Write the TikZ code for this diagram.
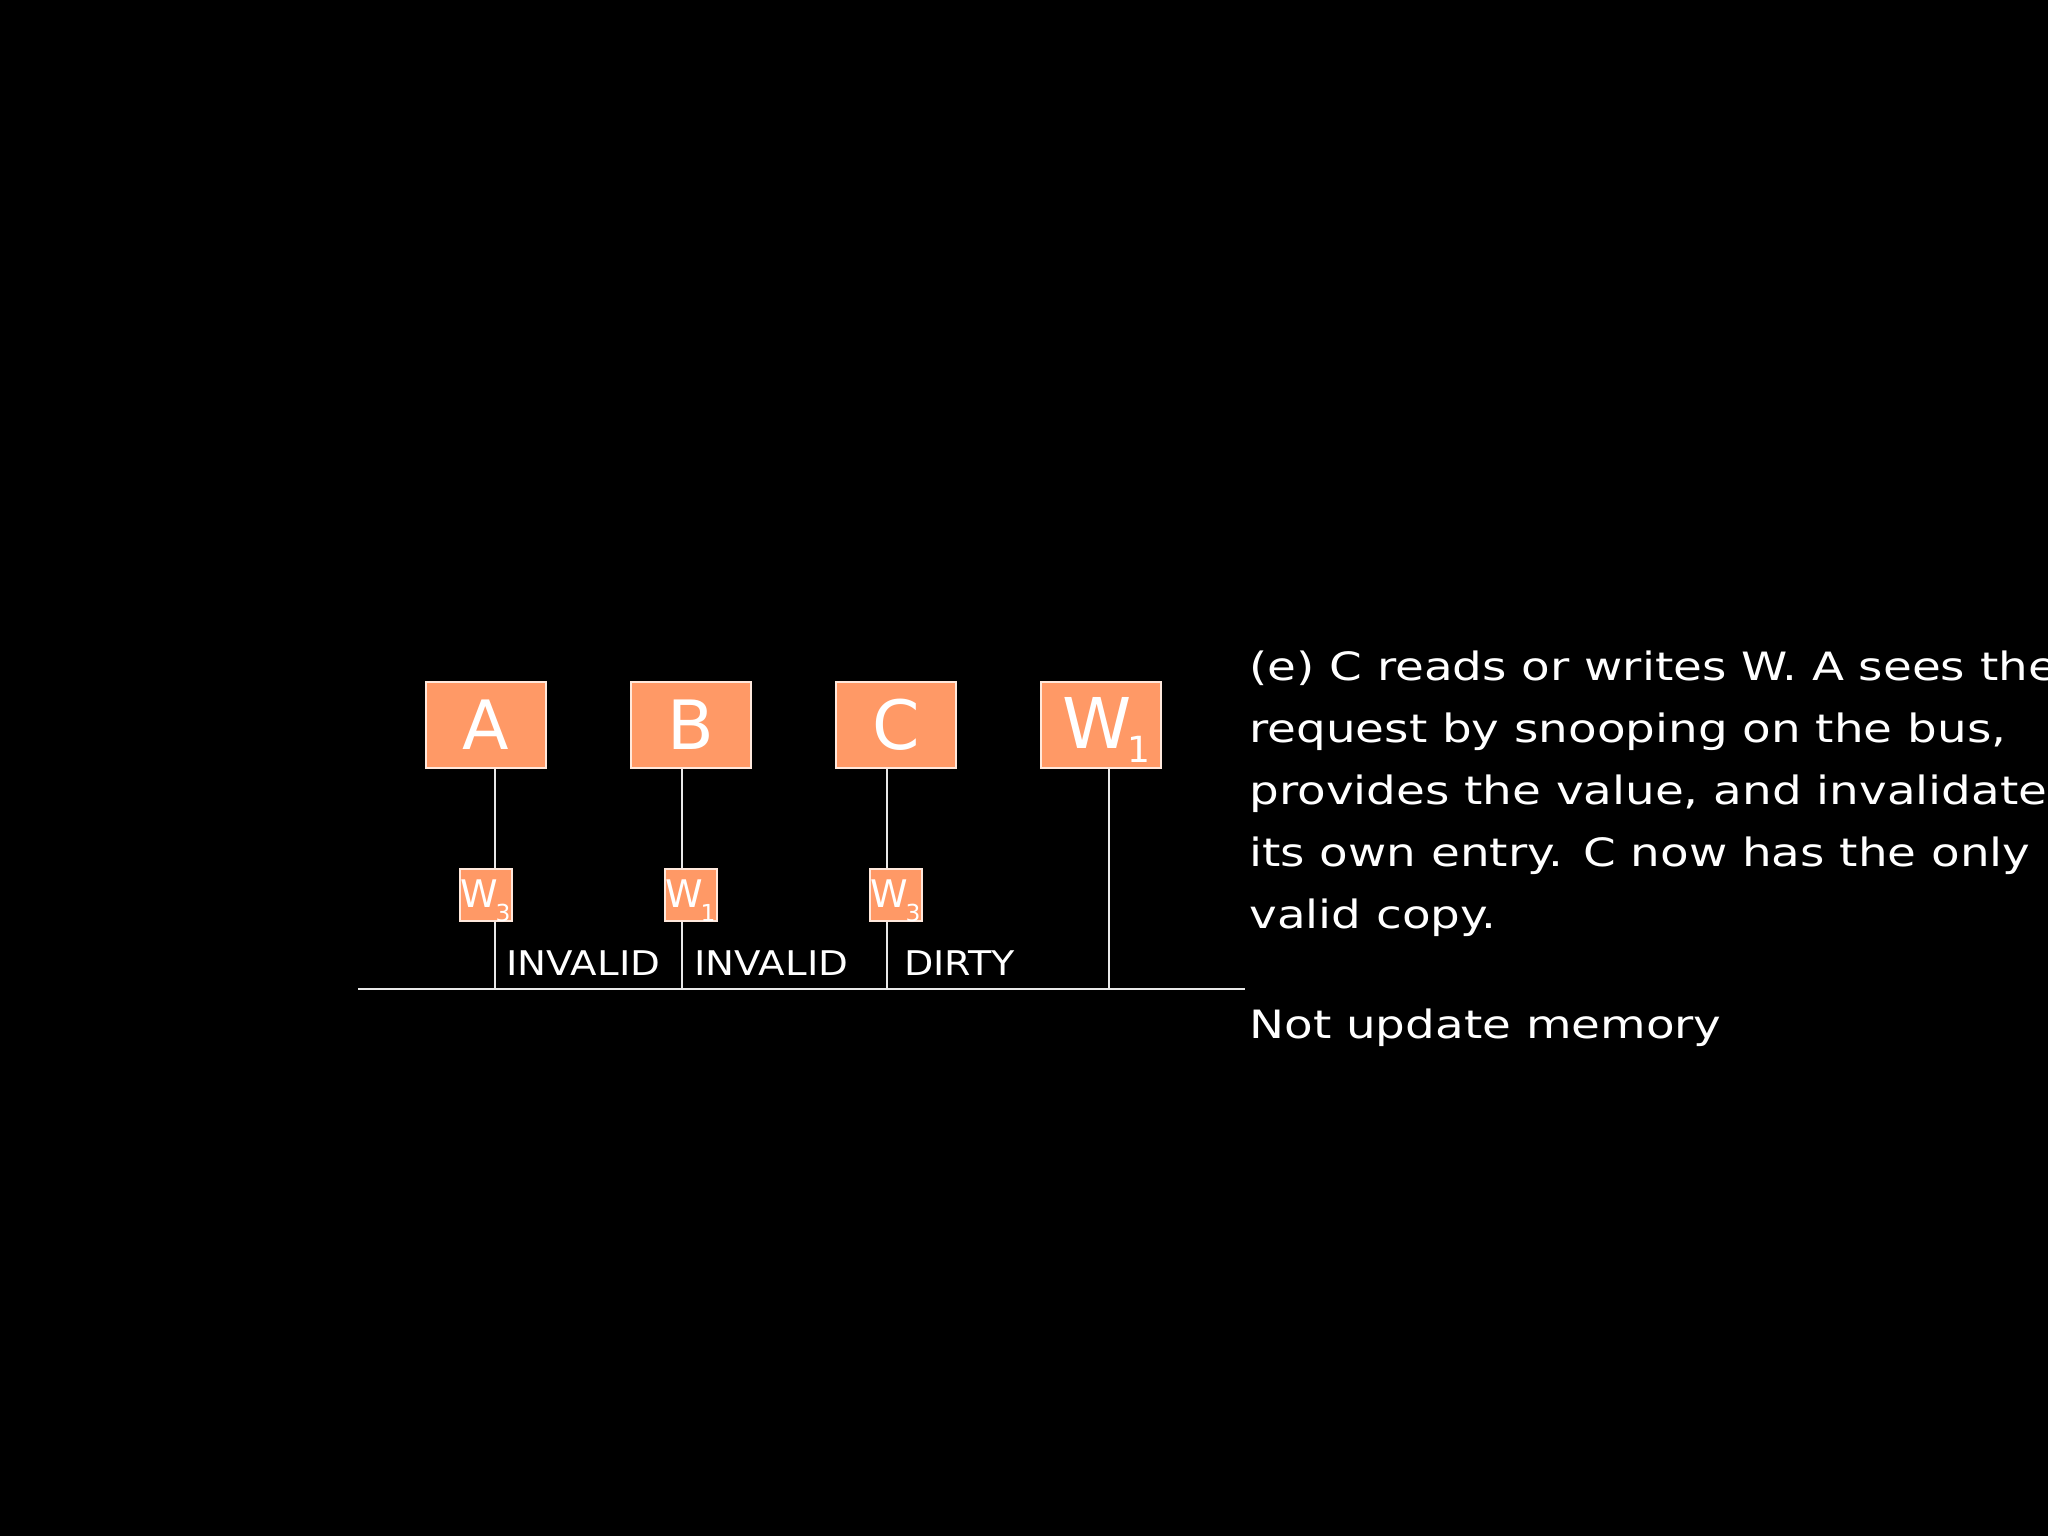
\documentclass[tikz,border=0pt]{standalone}
\usepackage{graphicx}
\usepackage{fontspec}
\setmainfont{DejaVu Sans}
\definecolor{boxfill}{HTML}{FF9966}
\definecolor{boxedge}{HTML}{FFE8DC}
\definecolor{wire}{HTML}{E8E8E8}
\newcommand{\widetext}[2]{\scalebox{#1}[1]{#2}}
\begin{document}
\begin{tikzpicture}[x=0.5pt,y=-0.5pt,
  bigbox/.style={draw=boxedge,line width=1.2pt,fill=boxfill,minimum width=60pt,minimum height=43pt,inner sep=0pt,text=white,font=\fontsize{34}{34}\selectfont},
  smallbox/.style={draw=boxedge,line width=1pt,fill=boxfill,minimum width=26pt,minimum height=26pt,inner sep=0pt,text=white},
  wireline/.style={draw=wire,line width=1pt},
  statelabel/.style={anchor=base west,inner sep=0pt,text=white,font=\fontsize{17}{17}\selectfont},
  para/.style={anchor=base west,inner sep=0pt,text=white,font=\fontsize{19.5}{19.5}\selectfont}]
\fill[black] (0,0) rectangle (2048,1536);
\useasboundingbox (0,0) rectangle (2048,1536);
\clip (0,0) rectangle (2048,1536);
% bus
\coordinate (busL) at (358,989);
\coordinate (busR) at (1245,989);
\draw[wireline] (busL) -- (busR);
% processors
\node[bigbox] (A) at (486,725) {A};
\node[bigbox] (B) at (691,725) {B};
\node[bigbox] (C) at (896,725) {C};
\node[bigbox] (M) at (1101,725) {};
\node[text=white,inner sep=0pt,anchor=base west,font=\fontsize{35}{35}\selectfont] (Mw) at (1062,748) {W};
\node[text=white,inner sep=0pt,anchor=base west,font=\fontsize{18}{18}\selectfont] (Ms) at (1127,762) {1};
% taps on the bus
\coordinate (tA) at (495,989);
\coordinate (tB) at (682,989);
\coordinate (tC) at (887,989);
\coordinate (tM) at (1109,989);
\draw[wireline] (A.south -| tA) -- (tA);
\draw[wireline] (B.south -| tB) -- (tB);
\draw[wireline] (C.south -| tC) -- (tC);
\draw[wireline] (M.south -| tM) -- (tM);
% caches
\node[smallbox] (cA) at (486,895) {};
\node[smallbox] (cB) at (691,895) {};
\node[smallbox] (cC) at (896,895) {};
\foreach \n/\s in {cA/3,cB/1,cC/3}{
  \node[text=white,inner sep=0pt,anchor=base west,font=\fontsize{19}{19}\selectfont] at ([xshift=0.5pt,yshift=-6pt]\n.west) {W};
  \node[text=white,inner sep=0pt,anchor=base east,font=\fontsize{11.7}{11.7}\selectfont] at ([xshift=-1pt,yshift=0.5pt]\n.south east) {\s};
}
% state labels
\node[statelabel] (sA) at (506,975) {\widetext{1.14}{INVALID}};
\node[statelabel] (sB) at (694,975) {\widetext{1.14}{INVALID}};
\node[statelabel] (sC) at (904,975) {\widetext{1.12}{DIRTY}};
% explanation
\node[para] (t1) at (1249,680) {\widetext{1.2}{(e) C reads or writes W. A sees the}};
\node[para] (t2) at (1249,742) {\widetext{1.2}{request by snooping on the bus,}};
\node[para] (t3) at (1249,804) {\widetext{1.2}{provides the value, and invalidates}};
\node[para] (t4) at (1249,866) {\widetext{1.2}{its own entry. C now has the only}};
\node[para] (t5) at (1249,928) {\widetext{1.2}{valid copy.}};
\node[para] (t6) at (1249,1038) {\widetext{1.2}{Not update memory}};
\end{tikzpicture}
\end{document}
